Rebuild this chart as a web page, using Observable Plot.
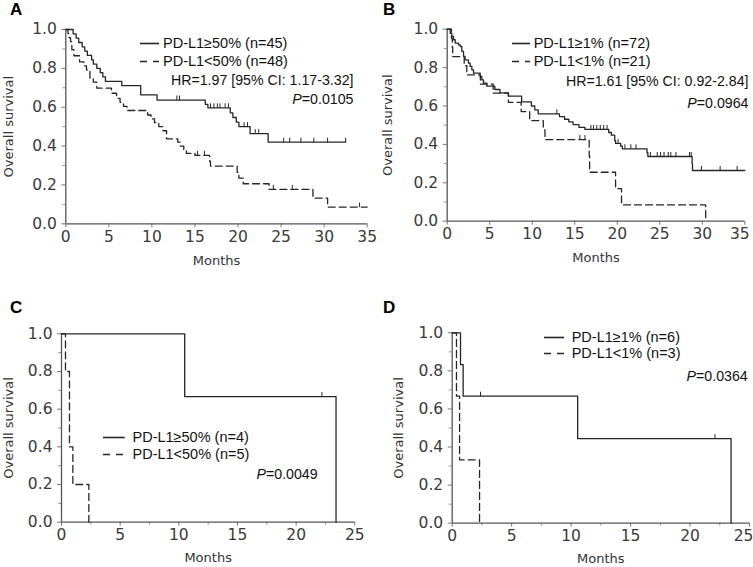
<!DOCTYPE html>
<html><head><meta charset="utf-8">
<script src="https://cdn.jsdelivr.net/npm/d3@7"></script>
<script src="https://cdn.jsdelivr.net/npm/@observablehq/plot@0.6"></script>
<style>
body{margin:0;background:#fff;}
#fig{position:relative;width:753px;height:567px;overflow:hidden;background:#fff;font-family:"Liberation Sans",Arial,sans-serif;}
.panel{position:absolute;}
.letter{position:absolute;font:bold 17px/17px "Liberation Sans",Arial,sans-serif;color:#000;}
.leg{position:absolute;font-size:14.5px;line-height:18px;color:#111;white-space:nowrap;}
.leg .row{display:flex;align-items:center;height:18px;}
.stat{position:absolute;font-size:14.2px;line-height:18px;color:#111;white-space:nowrap;}
</style></head><body><div id="fig"></div>
<script>
// ---------- Data (months, survival probability) ----------
// Panel A
const aHighTime = [0, 0.85, 1.2, 1.5, 1.9, 2.2, 2.5, 3.0, 3.2, 3.6, 4.0, 4.3, 4.6, 6.5, 8.7, 10.6, 16.2, 16.5, 19.1, 19.4, 19.8, 20.1, 21.4, 23.5, 32.5];
const aHighSurv = [1, 0.978, 0.956, 0.933, 0.911, 0.889, 0.867, 0.844, 0.822, 0.800, 0.778, 0.756, 0.733, 0.711, 0.664, 0.637, 0.615, 0.597, 0.571, 0.547, 0.523, 0.500, 0.464, 0.420, 0.420];
const aHighCensor = [12.9, 13.2, 16.8, 17.2, 17.6, 17.9, 18.5, 18.9, 20.7, 21.1, 22.0, 22.4, 25.3, 26.0, 27.3, 28.8, 30.4, 32.5];
const aLowTime = [0, 0.25, 0.4, 0.55, 0.7, 0.95, 1.6, 2.1, 2.4, 2.8, 3.2, 3.6, 5.3, 5.9, 6.3, 6.7, 7.1, 9.5, 9.9, 10.3, 10.8, 11.3, 11.7, 13.0, 13.3, 13.7, 14.0, 15.0, 16.7, 16.8, 19.9, 20.1, 20.6, 23.6, 28.7, 30.4, 35];
const aLowSurv = [1, 0.979, 0.958, 0.938, 0.896, 0.865, 0.833, 0.813, 0.792, 0.750, 0.729, 0.698, 0.672, 0.646, 0.625, 0.604, 0.583, 0.560, 0.540, 0.521, 0.500, 0.479, 0.437, 0.420, 0.400, 0.380, 0.362, 0.352, 0.322, 0.297, 0.265, 0.235, 0.206, 0.177, 0.132, 0.086, 0.086];
const aLowCensor = [15.3, 16.1, 24.1, 26.3, 34.1];
// Panel B
const bHighTime = [0, 0.35, 0.54, 0.74, 0.94, 1.33, 1.53, 1.72, 1.92, 2.11, 2.5, 2.7, 2.9, 3.1, 3.88, 4.07, 4.27, 4.66, 5.6, 6.2, 7.2, 8.75, 9.9, 10.3, 10.7, 13.2, 13.8, 14.3, 14.8, 15.5, 16.2, 19.0, 19.3, 19.7, 19.8, 20.4, 20.6, 23.5, 23.6, 28.8, 28.85, 35];
const bHighSurv = [1, 0.979, 0.962, 0.945, 0.927, 0.918, 0.910, 0.884, 0.858, 0.840, 0.823, 0.806, 0.788, 0.771, 0.754, 0.736, 0.719, 0.703, 0.686, 0.668, 0.651, 0.622, 0.600, 0.580, 0.559, 0.545, 0.531, 0.517, 0.503, 0.489, 0.478, 0.462, 0.448, 0.420, 0.405, 0.391, 0.377, 0.357, 0.337, 0.300, 0.264, 0.264];
const bHighCensor = [12.9, 16.9, 17.2, 17.6, 18.0, 18.4, 18.8, 20.1, 20.9, 21.6, 22.2, 23.9, 24.7, 25.1, 25.5, 26.0, 26.3, 26.9, 28.5, 28.7, 29.9, 32.1, 34.1];
const bLowTime = [0, 0.5, 0.6, 0.65, 2.0, 2.3, 3.9, 5.4, 7.2, 8.7, 9.7, 11.3, 11.5, 16.7, 16.75, 19.8, 20.5, 30.4];
const bLowSurv = [1, 0.952, 0.905, 0.857, 0.810, 0.762, 0.714, 0.667, 0.619, 0.571, 0.524, 0.476, 0.425, 0.340, 0.255, 0.170, 0.085, 0];
const bLowCensor = [15.6, 16.2];
// Panel C
const cHighTime = [0, 10.5, 23.4];
const cHighSurv = [1, 0.667, 0];
const cHighCensor = [22.2];
const cLowTime = [0, 0.34, 0.68, 0.97, 2.33];
const cLowSurv = [1, 0.8, 0.4, 0.2, 0];
const cLowCensor = [];
// Panel D
const dHighTime = [0, 0.7, 0.92, 10.55, 23.45];
const dHighSurv = [1, 0.833, 0.667, 0.444, 0];
const dHighCensor = [2.38, 22.1];
const dLowTime = [0, 0.36, 0.62, 2.3];
const dLowSurv = [1, 0.667, 0.333, 0];
const dLowCensor = [];

// Ticks and texts
const yTicks = [0, 0.2, 0.4, 0.6, 0.8, 1.0];
const yMinorTicks = [0.1, 0.3, 0.5, 0.7, 0.9];
const xTicks35 = [0, 5, 10, 15, 20, 25, 30, 35];
const xTicks25 = [0, 5, 10, 15, 20, 25];
const xMinor25 = [2.5, 7.5, 12.5, 17.5, 22.5];
const yTitle = "Overall survival";
const xTitle = "Months";
const legendA = ["PD-L1≥50% (n=45)", "PD-L1<50% (n=48)"];
const legendB = ["PD-L1≥1% (n=72)", "PD-L1<1% (n=21)"];
const legendC = ["PD-L1≥50% (n=4)", "PD-L1<50% (n=5)"];
const legendD = ["PD-L1≥1% (n=6)", "PD-L1<1% (n=3)"];
const hrA = "HR=1.97 [95% CI: 1.17-3.32]";
const hrB = "HR=1.61 [95% CI: 0.92-2.84]";
const pA = "=0.0105", pB = "=0.0964", pC = "=0.0049", pD = "=0.0364";

// ---------- helpers ----------
const toRows = (T, S) => T.map((t, i) => ({t, s: S[i]}));
function censorRows(T, S, C) {
  return C.map(c => { let s = S[0]; for (let i = 0; i < T.length; i++) if (T[i] <= c) s = S[i]; return {t: c, s}; });
}
const tickUp = {draw(ctx) { ctx.moveTo(0, 0); ctx.lineTo(0, -4.5); }};
const INK = "#262626";
const TICKFONT = 15.5;

const fig = document.getElementById("fig");

function panel(cfg) {
  const div = document.createElement("div");
  div.className = "panel";
  div.style.left = cfg.left + "px"; div.style.top = cfg.top + "px";
  const hi = toRows(cfg.high[0], cfg.high[1]);
  const lo = toRows(cfg.low[0], cfg.low[1]);
  const cens = censorRows(cfg.high[0], cfg.high[1], cfg.high[2]).concat(censorRows(cfg.low[0], cfg.low[1], cfg.low[2]));
  const lastTick = cfg.xTicks[cfg.xTicks.length - 1];
  const marks = [
    Plot.axisY({ticks: yTicks, tickFormat: d3.format(".1f"), tickSize: 4, tickPadding: 5, label: null, stroke: "#777", fill: "#3a3a3a", fontSize: TICKFONT, fontFamily: "DejaVu Sans"}),
    Plot.axisY({ticks: yMinorTicks, tickFormat: () => "", tickSize: 3, label: null, stroke: "#999"}),
    Plot.axisX({ticks: cfg.xTicks, tickFormat: d => (cfg.lastDx && d === lastTick) ? "" : String(d), tickSize: 4, tickPadding: 3, label: null, stroke: "#777", fill: "#3a3a3a", fontSize: TICKFONT, fontFamily: "DejaVu Sans"}),
  ];
  if (cfg.lastDx) marks.push(Plot.axisX({ticks: [lastTick], tickSize: 4, tickPadding: 3, dx: cfg.lastDx, stroke: "none", label: null, fill: "#3a3a3a", fontSize: TICKFONT, fontFamily: "DejaVu Sans"}));
  if (cfg.xMinor.length) marks.push(Plot.axisX({ticks: cfg.xMinor, tickFormat: () => "", tickSize: 3, label: null, stroke: "#999"}));
  marks.push(
    Plot.ruleX([0], {stroke: "#555", strokeWidth: 1.3}),
    Plot.ruleY([0], {stroke: "#555", strokeWidth: 1.3}),
    Plot.line(hi, {x: "t", y: "s", curve: "step-after", stroke: INK, strokeWidth: 1.3}),
    Plot.line(lo, {x: "t", y: "s", curve: "step-after", stroke: INK, strokeWidth: 1.3, strokeDasharray: "7,4"}),
    Plot.dot(cens, {x: "t", y: "s", symbol: tickUp, r: 3, stroke: INK, fill: "none", strokeWidth: 1}),
    Plot.text([yTitle], {frameAnchor: "left", textAnchor: "middle", lineAnchor: "middle", rotate: -90, dx: cfg.yDx, fontSize: 13, fill: "#333", fontFamily: "DejaVu Sans"}),
    Plot.text([xTitle], {frameAnchor: "bottom", textAnchor: "middle", lineAnchor: "middle", dy: cfg.xDy, fontSize: 13, fill: "#333", fontFamily: "DejaVu Sans"})
  );
  const svg = Plot.plot({
    width: cfg.width, height: cfg.height,
    marginLeft: cfg.m[0], marginRight: cfg.m[1], marginTop: cfg.m[2], marginBottom: cfg.m[3],
    style: {fontFamily: "DejaVu Sans", fontSize: TICKFONT + "px", background: "transparent", overflow: "visible", color: "#3a3a3a"},
    x: {domain: [0, cfg.xMax]},
    y: {domain: [0, 1]},
    marks
  });
  div.appendChild(svg);
  fig.appendChild(div);

  const let_ = document.createElement("div");
  let_.className = "letter"; let_.textContent = cfg.id;
  let_.style.left = cfg.letter[0] + "px"; let_.style.top = cfg.letter[1] + "px";
  fig.appendChild(let_);

  const lg = document.createElement("div");
  lg.className = "leg";
  lg.style.left = cfg.leg.left + "px"; lg.style.top = cfg.leg.top + "px";
  cfg.leg.labels.forEach((lab, i) => {
    const row = document.createElement("div"); row.className = "row";
    if (i === 1) row.style.marginTop = (cfg.leg.rowGap - 18) + "px";
    const w = cfg.leg.sw;
    row.innerHTML = `<svg width="${w}" height="18" style="display:block"><line x1="0" x2="${w}" y1="9.5" y2="9.5" stroke="${INK}" stroke-width="1.6" ${i ? 'stroke-dasharray="7,6"' : ''}/></svg>`;
    const sp = document.createElement("span"); sp.textContent = lab; sp.style.marginLeft = cfg.leg.gap + "px";
    row.appendChild(sp);
    lg.appendChild(row);
  });
  fig.appendChild(lg);

  cfg.stats.forEach(st => {
    const d = document.createElement("div");
    d.className = "stat";
    if (st.html) d.innerHTML = st.html; else d.textContent = st.text;
    d.style.top = (st.cy - 9) + "px";
    if (st.right != null) d.style.right = (753 - st.right) + "px"; else d.style.left = st.left + "px";
    fig.appendChild(d);
  });
}

panel({id: "A", left: 0, top: 0, width: 376, height: 283, m: [65.3, 9.3, 29, 59.7], xMax: 35, xTicks: xTicks35, xMinor: [], lastDx: 0,
  high: [aHighTime, aHighSurv, aHighCensor], low: [aLowTime, aLowSurv, aLowCensor], yDx: -57, xDy: 37,
  letter: [10, 1], leg: {left: 140, top: 34.3, sw: 19, gap: 4, rowGap: 17.7, labels: legendA},
  stats: [{text: hrA, right: 353.5, cy: 80}, {html: `<i>P</i>${pA}`, right: 353.5, cy: 99}]});
panel({id: "B", left: 376, top: 0, width: 377, height: 283, m: [70.7, 8.7, 28.7, 62.3], xMax: 35, xTicks: xTicks35, xMinor: [], lastDx: -5,
  high: [bHighTime, bHighSurv, bHighCensor], low: [bLowTime, bLowSurv, bLowCensor], yDx: -59, xDy: 37,
  letter: [383, 1], leg: {left: 511.7, top: 34.3, sw: 18.5, gap: 3.5, rowGap: 17.7, labels: legendB},
  stats: [{text: hrB, right: 748.5, cy: 80.5}, {html: `<i>P</i>${pB}`, right: 748.5, cy: 103}]});
panel({id: "C", left: 0, top: 290, width: 376, height: 277, m: [61, 21.7, 43.3, 45.3], xMax: 25, xTicks: xTicks25, xMinor: xMinor25, lastDx: 0,
  high: [cHighTime, cHighSurv, cHighCensor], low: [cLowTime, cLowSurv, cLowCensor], yDx: -52.5, xDy: 36,
  letter: [10, 299], leg: {left: 103.3, top: 427.7, sw: 21.7, gap: 7.5, rowGap: 17.6, labels: legendC},
  stats: [{html: `<i>P</i>${pC}`, left: 256.5, cy: 474.3}]});
panel({id: "D", left: 376, top: 290, width: 377, height: 277, m: [75.7, 4, 42.3, 44.3], xMax: 25, xTicks: xTicks25, xMinor: xMinor25, lastDx: -6,
  high: [dHighTime, dHighSurv, dHighCensor], low: [dLowTime, dLowSurv, dLowCensor], yDx: -53.4, xDy: 35.3,
  letter: [383, 299], leg: {left: 544.3, top: 327.7, sw: 20, gap: 7.4, rowGap: 16.6, labels: legendD},
  stats: [{html: `<i>P</i>${pD}`, right: 747.7, cy: 376}]});
</script></body></html>
